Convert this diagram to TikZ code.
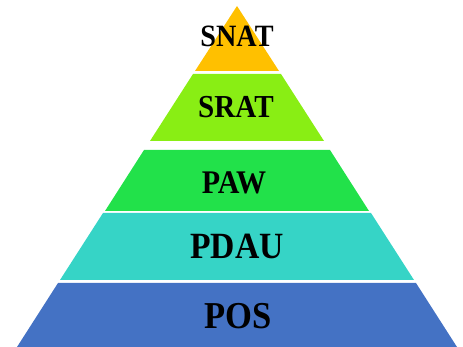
\documentclass[tikz,border=0pt]{standalone}
\usepackage{fontspec}
\newfontfamily\layerfont[FakeStretch=0.91]{Liberation Serif}
\definecolor{snatcol}{RGB}{255,192,0}
\definecolor{sratcol}{RGB}{137,238,20}
\definecolor{pawcol}{RGB}{34,225,74}
\definecolor{pdaucol}{RGB}{54,212,198}
\definecolor{poscol}{RGB}{68,114,196}
\begin{document}
\begin{tikzpicture}[x=1pt,y=-1pt,
  layer/.style={fill=#1, draw=none},
  tag/.style={anchor=base, text=black, inner sep=0pt,
    font=\layerfont\bfseries\fontsize{#1}{#1}\selectfont}]
  \useasboundingbox (0,0) rectangle (463,347);
  % pyramid slices, apex at (237,6), side slope 0.645
  \fill[layer=snatcol] (237,6) -- (279,71) -- (195,71) -- cycle;
  \fill[layer=sratcol] (193,74) -- (281,74) -- (324,141) -- (150,141) -- cycle;
  \fill[layer=pawcol]  (144,150) -- (330,150) -- (369,211) -- (105,211) -- cycle;
  \fill[layer=pdaucol] (103,213) -- (371,213) -- (414,280) -- (60,280) -- cycle;
  \fill[layer=poscol]  (58,283) -- (416,283) -- (457,347) -- (17,347) -- cycle;
  % labels
  \node[tag=31] (snat) at (237,47) {SNAT};
  \node[tag=32] (srat) at (236,118) {SRAT};
  \node[tag=33] (paw)  at (234,194) {PAW};
  \node[tag=37] (pdau) at (237,259) {PDAU};
  \node[tag=38] (pos)  at (238,328) {POS};
\end{tikzpicture}
\end{document}
